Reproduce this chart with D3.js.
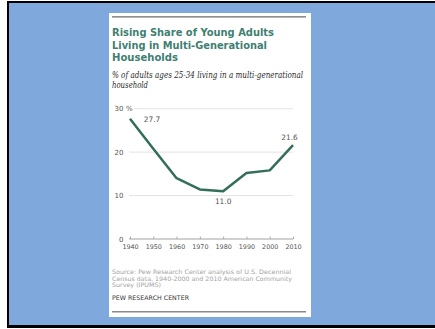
<!DOCTYPE html>
<html><head><meta charset="utf-8">
<script src="https://cdn.jsdelivr.net/npm/d3@7"></script>
<style>html,body{margin:0;padding:0;background:#fff;}svg{display:block;}</style>
</head><body>
<svg id="c" width="435" height="329"></svg>
<script>
const years = [1940, 1950, 1960, 1970, 1980, 1990, 2000, 2010];
const shares = [27.7, 20.8, 14.0, 11.4, 11.0, 15.2, 15.8, 21.6];
const yTicks = [0, 10, 20, 30];
const titleLines = ["Rising Share of Young Adults", "Living in Multi-Generational", "Households"];
const subtitleLines = ["% of adults ages 25-34 living in a multi-generational", "household"];
const sourceLines = ["Source: Pew Research Center analysis of U.S. Decennial", "Census data, 1940-2000 and 2010 American Community", "Survey (IPUMS)"];
const credit = "PEW RESEARCH CENTER";
const callouts = [{year: 1940, value: 27.7, dx: 22, dy: 3, label: "27.7"},
                  {year: 1980, value: 11.0, dx: 0, dy: 12.5, label: "11.0"},
                  {year: 2010, value: 21.6, dx: -3.5, dy: -5.5, label: "21.6"}];

const svg = d3.select("#c");
// background frame
svg.append("rect").attr("x", 7).attr("y", 1).attr("width", 440).attr("height", 327).attr("fill", "#000");
svg.append("rect").attr("x", 9).attr("y", 3).attr("width", 440).attr("height", 322).attr("fill", "#7fa8dc");
// white panel
svg.append("rect").attr("x", 109).attr("y", 13).attr("width", 202).attr("height", 304).attr("fill", "#fff");
svg.append("line").attr("x1", 112).attr("x2", 306).attr("y1", 16.8).attr("y2", 16.8).attr("stroke", "#6a6a6a").attr("stroke-width", 1.2);
svg.append("line").attr("x1", 112).attr("x2", 306).attr("y1", 311.8).attr("y2", 311.8).attr("stroke", "#8a8a8a").attr("stroke-width", 1.6);

// title
const tW = [162, 155, 66], tY = [36.3, 48.5, 61];
titleLines.forEach((t, i) => svg.append("text").attr("x", 112).attr("y", tY[i])
  .attr("font-family", "DejaVu Sans").attr("font-weight", "bold").attr("font-size", 10.2)
  .attr("fill", "#3f7f72").attr("textLength", tW[i]).attr("lengthAdjust", "spacingAndGlyphs").text(t));
const sW = [191, 36], sY = [77.5, 87.5];
subtitleLines.forEach((t, i) => svg.append("text").attr("x", 112).attr("y", sY[i])
  .attr("font-family", "DejaVu Serif").attr("font-style", "italic").attr("font-size", 8.4)
  .attr("fill", "#2a2a2a").attr("textLength", sW[i]).attr("lengthAdjust", "spacingAndGlyphs").text(t));

// scales
const x = d3.scaleLinear().domain([1940, 2010]).range([130, 293]);
const y = d3.scaleLinear().domain([0, 30]).range([239, 108.7]);

// gridlines
const g = svg.append("g");
yTicks.filter(v => v > 0).forEach(v => {
  g.append("line").attr("x1", v === 30 ? 134 : 129).attr("x2", 293).attr("y1", y(v)).attr("y2", y(v))
    .attr("stroke", "#dcdcdc").attr("stroke-width", 0.8);
});
// y labels
yTicks.forEach(v => {
  g.append("text").attr("x", 123.5).attr("y", y(v) + 2.5).attr("text-anchor", "end")
    .attr("font-family", "DejaVu Sans").attr("font-size", 7).attr("fill", "#555").text(v);
});
g.append("text").attr("x", 126).attr("y", y(30) + 2.5).attr("font-family", "DejaVu Sans")
  .attr("font-size", 7).attr("fill", "#555").text("%");

// x axis
const xAxis = d3.axisBottom(x).tickValues(years).tickFormat(d3.format("d")).tickSize(-2.5).tickPadding(5);
const ax = svg.append("g").attr("transform", `translate(0,${y(0)})`).call(xAxis);
ax.select(".domain").attr("stroke", "#999").attr("stroke-width", 0.9).attr("d", `M129,0H293`);
ax.selectAll(".tick line").attr("stroke", "#999").attr("stroke-width", 0.8);
ax.selectAll(".tick text").attr("font-family", "DejaVu Sans").attr("font-size", 6.4).attr("fill", "#555");

// line
const line = d3.line().x((d, i) => x(years[i])).y(d => y(d));
svg.append("path").datum(shares).attr("d", line).attr("fill", "none")
  .attr("stroke", "#336e59").attr("stroke-width", 2.5).attr("stroke-linejoin", "round");

// callouts
callouts.forEach(c => svg.append("text").attr("x", x(c.year) + c.dx).attr("y", y(c.value) + c.dy)
  .attr("text-anchor", "middle").attr("font-family", "DejaVu Sans").attr("font-size", 7.4)
  .attr("fill", "#555").text(c.label));

// source
const srcW = [179, 180, 49], srcY = [273.6, 280.6, 287.4];
sourceLines.forEach((t, i) => svg.append("text").attr("x", 112).attr("y", srcY[i])
  .attr("font-family", "DejaVu Sans").attr("font-size", 6.1).attr("fill", "#a3a3a3")
  .attr("textLength", srcW[i]).attr("lengthAdjust", "spacingAndGlyphs").text(t));
svg.append("text").attr("x", 112).attr("y", 300.2).attr("font-family", "DejaVu Sans")
  .attr("font-size", 6.2).attr("fill", "#333").attr("textLength", 77).attr("lengthAdjust", "spacingAndGlyphs").text(credit);
</script>
</body></html>
